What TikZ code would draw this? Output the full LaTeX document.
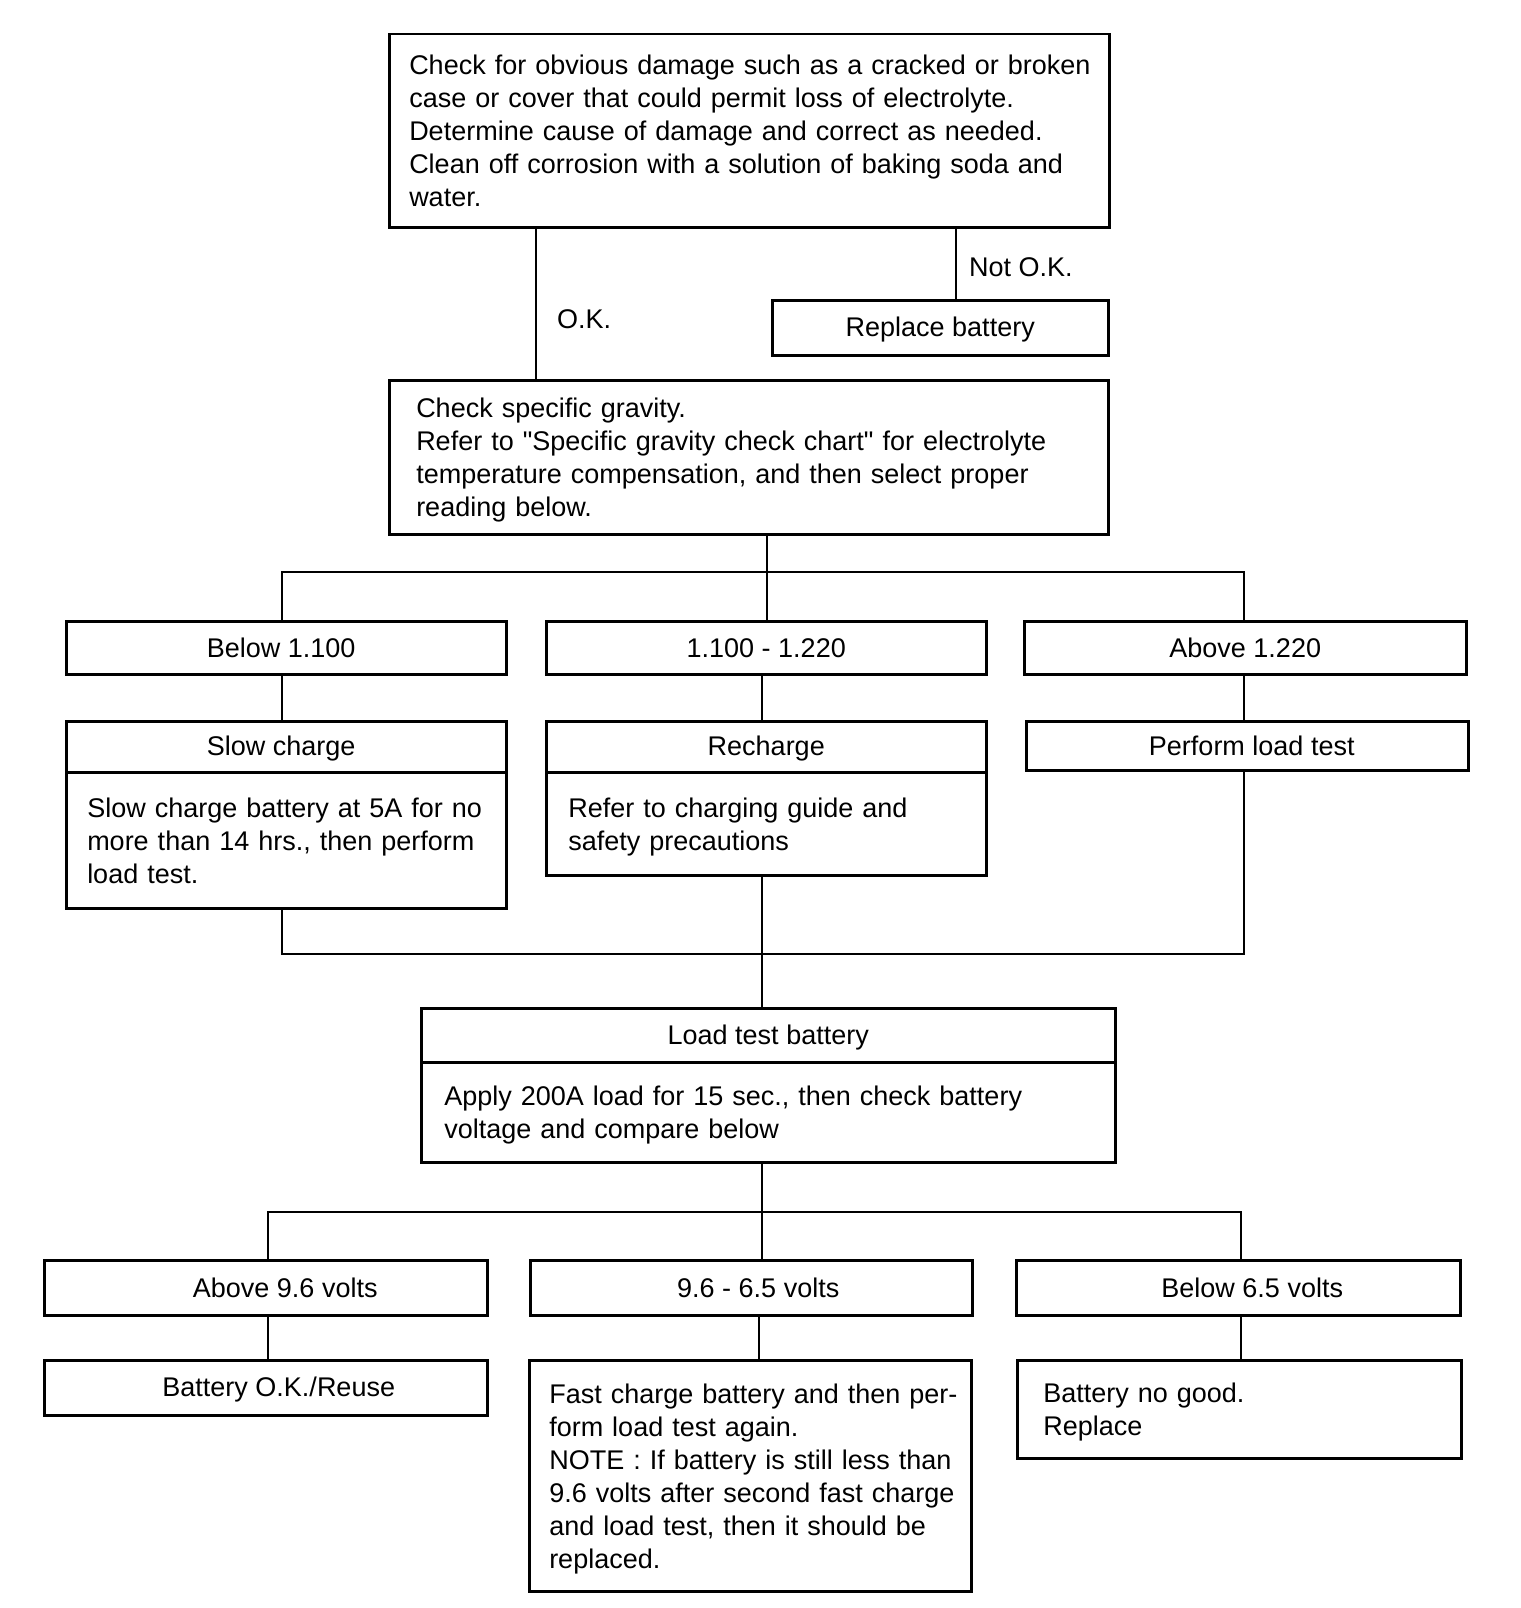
\documentclass[tikz,border=0pt]{standalone}
\usepackage{fontspec}
\setmainfont{Liberation Sans}[Ligatures=TeXOff]
\newcommand\boxlines[1]{\vspace*{-7pt}\begin{tabular}{@{}l@{}}#1\end{tabular}}
\begin{document}
\begin{tikzpicture}[x=1pt,y=-1pt,
  box/.style={draw, line width=2.5pt, anchor=north west, inner sep=0pt,
    font=\fontsize{27}{33}\selectfont},
  cbox/.style={box, align=center},
  conn/.style={line width=1.6pt},
  lbl/.style={anchor=west, inner sep=0pt, font=\fontsize{27}{33}\selectfont}]
\useasboundingbox (0,0) rectangle (1520,1608);
\fill[white] (0,0) rectangle (1520,1608);

% top box
\node[box, minimum width=720pt, minimum height=193pt, text width=680pt, align=left] (top) at (388,33)
 {\boxlines{Check for obvious damage such as a cracked or broken\\
 case or cover that could permit loss of electrolyte.\\
 Determine cause of damage and correct as needed.\\
 Clean off corrosion with a solution of baking soda and\\
 water.}};
\node[cbox, minimum width=336pt, minimum height=55pt, text depth=2pt] (rep) at (771,299) {Replace battery};
\node[lbl] (notok) at (969,267) {Not O.K.};
\node[lbl] (ok) at (557,319) {O.K.};
\node[box, minimum width=719pt, minimum height=154pt, text width=665pt, align=left] (grav) at (388,379)
 {\boxlines{Check specific gravity.\\
 Refer to "Specific gravity check chart" for electrolyte\\
 temperature compensation, and then select proper\\
 reading below.}};

% row 1
\node[cbox, minimum width=440pt, minimum height=53pt] (r1a) at (65,620) {Below 1.100\hspace*{10pt}};
\node[cbox, minimum width=440pt, minimum height=53pt] (r1b) at (545,620) {1.100 - 1.220};
\node[cbox, minimum width=442pt, minimum height=53pt] (r1c) at (1023,620) {Above 1.220};

% row 2
\node[cbox, minimum width=440pt, minimum height=51pt, text depth=2pt] (sc) at (65,720) {Slow charge\hspace*{10pt}};
\node[box, minimum width=440pt, minimum height=136pt, text width=398pt, align=left] (scb) at (65,771)
 {\boxlines{Slow charge battery at 5A for no\\
 more than 14 hrs., then perform\\
 load test.}};
\node[cbox, minimum width=440pt, minimum height=51pt, text depth=2pt] (rc) at (545,720) {Recharge};
\node[box, minimum width=440pt, minimum height=103pt, text width=396pt, align=left] (rcb) at (545,771)
 {\boxlines{Refer to charging guide and\\
 safety precautions}};
\node[cbox, minimum width=442pt, minimum height=49pt] (plt) at (1025,720) {\hspace*{9pt}Perform load test};

% load test
\node[cbox, minimum width=694pt, minimum height=54pt, text depth=2pt] (lt) at (420,1007) {Load test battery};
\node[box, minimum width=694pt, minimum height=100pt, text width=648pt, align=left] (ltb) at (420,1061)
 {\boxlines{Apply 200A load for 15 sec., then check battery\\
 voltage and compare below}};

% row 3
\node[cbox, minimum width=443pt, minimum height=55pt] (v1) at (43,1259) {\hspace*{39pt}Above 9.6 volts};
\node[cbox, minimum width=442pt, minimum height=55pt] (v2) at (529,1259) {\hspace*{14pt}9.6 - 6.5 volts};
\node[cbox, minimum width=444pt, minimum height=55pt] (v3) at (1015,1259) {\hspace*{28pt}Below 6.5 volts};

% row 4
\node[cbox, minimum width=443pt, minimum height=55pt, text depth=2pt] (okr) at (43,1359) {\hspace*{26pt}Battery O.K./Reuse};
\node[box, minimum width=442pt, minimum height=231pt, text width=402pt, align=left] (fc) at (528,1359)
 {\boxlines{Fast charge battery and then per-\\
 form load test again.\\
 NOTE : If battery is still less than\\
 9.6 volts after second fast charge\\
 and load test, then it should be\\
 replaced.}};
\node[box, minimum width=444pt, minimum height=98pt, text width=392pt, align=left] (ng) at (1016,1359)
 {\boxlines{Battery no good.\\
 Replace}};

% coordinates
\coordinate (xok) at (536,0);
\coordinate (xnok) at (956,0);
\coordinate (b1m) at (767,572);
\coordinate (b1l) at (282,572);
\coordinate (b1r) at (1244,572);
\coordinate (xm) at (762,0);
\coordinate (b2l) at (282,954);
\coordinate (b2r) at (1244,954);
\coordinate (b3l) at (268,1212);
\coordinate (b3r) at (1241,1212);
\coordinate (b3m) at (762,1212);
\coordinate (xv2) at (759,0);

% connectors
\draw[conn] (top.south -| xok) -- (grav.north -| xok);
\draw[conn] (top.south -| xnok) -- (rep.north -| xnok);
\draw[conn] (grav.south -| b1m) -- (b1m);
\draw[conn] (b1l |- r1a.north) -- (b1l) -- (b1r) -- (b1r |- r1c.north);
\draw[conn] (b1m) -- (r1b.north -| b1m);
\draw[conn] (r1a.south -| b1l) -- (sc.north -| b1l);
\draw[conn] (r1b.south -| xm) -- (rc.north -| xm);
\draw[conn] (r1c.south -| b1r) -- (plt.north -| b1r);
\draw[conn] (scb.south -| b2l) -- (b2l) -- (b2r) -- (plt.south -| b2r);
\draw[conn] (rcb.south -| xm) -- (lt.north -| xm);
\draw[conn] (ltb.south -| b3m) -- (b3m);
\draw[conn] (b3l |- v1.north) -- (b3l) -- (b3r) -- (b3r |- v3.north);
\draw[conn] (b3m) -- (v2.north -| b3m);
\draw[conn] (v1.south -| b3l) -- (okr.north -| b3l);
\draw[conn] (v2.south -| xv2) -- (fc.north -| xv2);
\draw[conn] (v3.south -| b3r) -- (ng.north -| b3r);
\end{tikzpicture}
\end{document}
